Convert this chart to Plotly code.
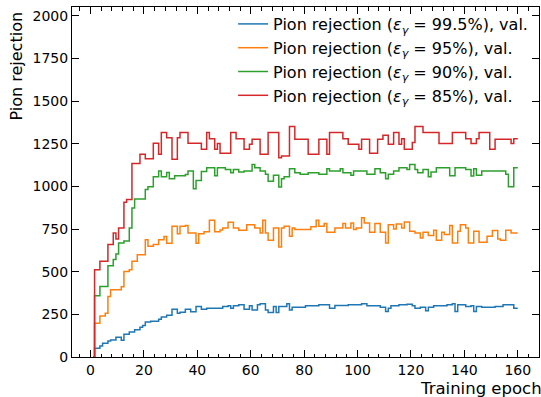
import plotly.graph_objects as go

epochs = list(range(1, 161))

rej_995 = [
    0, 51, 51, 65, 80, 80, 94, 100, 100, 116,
    116, 98, 133, 133, 147, 147, 160, 160, 175, 185,
    205, 205, 210, 210, 210, 222, 235, 235, 245, 245,
    280, 280, 257, 262, 262, 280, 280, 265, 265, 296,
    296, 280, 280, 286, 286, 286, 286, 286, 286, 296,
    296, 300, 286, 300, 300, 306, 306, 280, 280, 300,
    276, 276, 306, 312, 312, 276, 261, 261, 296, 261,
    296, 296, 296, 312, 276, 292, 292, 292, 292, 292,
    300, 300, 300, 300, 300, 306, 306, 306, 306, 286,
    286, 302, 302, 302, 302, 302, 306, 306, 306, 306,
    306, 312, 312, 300, 300, 300, 300, 300, 292, 292,
    267, 286, 300, 300, 300, 306, 306, 306, 309, 309,
    300, 286, 286, 292, 292, 271, 292, 292, 300, 300,
    300, 300, 300, 306, 306, 312, 267, 306, 306, 306,
    296, 296, 300, 267, 296, 296, 292, 292, 292, 292,
    292, 296, 296, 296, 306, 306, 306, 306, 286, 286,
]

rej_95 = [
    0, 198, 198, 241, 241, 257, 355, 394, 394, 394,
    394, 412, 502, 502, 512, 561, 561, 600, 600, 600,
    688, 649, 649, 659, 659, 688, 688, 706, 667, 667,
    767, 767, 723, 767, 767, 771, 727, 727, 727, 667,
    723, 723, 735, 735, 802, 802, 735, 735, 745, 757,
    757, 790, 790, 757, 757, 743, 743, 743, 776, 776,
    776, 757, 757, 727, 802, 727, 684, 684, 757, 757,
    645, 757, 767, 767, 708, 757, 747, 747, 747, 747,
    747, 747, 763, 763, 802, 767, 767, 782, 731, 731,
    731, 757, 757, 757, 782, 757, 757, 786, 747, 757,
    757, 816, 786, 786, 731, 731, 782, 782, 731, 731,
    669, 776, 776, 751, 780, 780, 757, 792, 792, 737,
    737, 727, 727, 698, 731, 731, 712, 712, 743, 684,
    684, 731, 718, 718, 771, 669, 669, 737, 776, 776,
    757, 669, 669, 737, 737, 673, 673, 673, 708, 708,
    741, 741, 692, 684, 684, 743, 743, 727, 727, 727,
]

rej_90 = [
    0, 359, 359, 414, 414, 414, 535, 535, 571, 604,
    669, 669, 680, 680, 757, 874, 927, 927, 927, 927,
    982, 998, 998, 1057, 1057, 1090, 1057, 1057, 1081, 1045,
    1045, 1063, 1063, 1063, 1063, 1070, 1090, 1090, 986, 1035,
    1035, 1087, 1087, 1110, 1110, 1110, 1063, 1110, 1110, 1110,
    1100, 1100, 1080, 1100, 1100, 1084, 1084, 1090, 1090, 1090,
    1129, 1110, 1110, 1090, 1090, 1071, 1031, 1031, 1065, 1065,
    996, 1045, 1057, 1057, 1104, 1104, 1080, 1080, 1071, 1071,
    1071, 1080, 1080, 1080, 1080, 1071, 1071, 1071, 1104, 1090,
    1090, 1090, 1090, 1104, 1080, 1080, 1080, 1065, 1090, 1090,
    1090, 1090, 1090, 1071, 1071, 1071, 1104, 1104, 1080, 1080,
    1045, 1071, 1071, 1090, 1090, 1110, 1110, 1110, 1100, 1129,
    1129, 1100, 1080, 1080, 1100, 1100, 1057, 1084, 1084, 1110,
    1110, 1110, 1110, 1110, 1063, 1063, 1110, 1110, 1110, 1110,
    1100, 1100, 1061, 1104, 1065, 1065, 1090, 1090, 1090, 1090,
    1090, 1090, 1090, 1090, 1090, 1071, 998, 998, 1110, 1110,
]

rej_85 = [
    0, 512, 512, 561, 561, 561, 659, 659, 727, 692,
    757, 757, 908, 923, 923, 1135, 1135, 1135, 1188, 1188,
    1163, 1163, 1163, 1253, 1253, 1188, 1316, 1316, 1286, 1286,
    1159, 1159, 1286, 1316, 1316, 1316, 1253, 1253, 1253, 1253,
    1253, 1218, 1218, 1316, 1280, 1280, 1218, 1251, 1195, 1195,
    1195, 1195, 1316, 1316, 1280, 1280, 1280, 1218, 1218, 1247,
    1276, 1276, 1276, 1188, 1188, 1188, 1316, 1316, 1316, 1316,
    1168, 1178, 1178, 1178, 1351, 1351, 1276, 1276, 1276, 1276,
    1276, 1188, 1188, 1188, 1188, 1276, 1276, 1276, 1188, 1316,
    1316, 1316, 1316, 1316, 1280, 1280, 1247, 1247, 1247, 1247,
    1218, 1276, 1276, 1276, 1195, 1195, 1195, 1276, 1276, 1300,
    1300, 1247, 1247, 1316, 1316, 1247, 1280, 1218, 1218, 1218,
    1257, 1351, 1351, 1351, 1316, 1316, 1316, 1316, 1316, 1316,
    1251, 1251, 1251, 1251, 1251, 1316, 1316, 1316, 1316, 1316,
    1280, 1280, 1251, 1251, 1280, 1316, 1316, 1316, 1316, 1218,
    1218, 1276, 1276, 1276, 1276, 1276, 1276, 1251, 1280, 1280,
]

series_names = [
    "Pion rejection (<i>ε</i><sub><i>γ</i></sub> = 99.5%), val.",
    "Pion rejection (<i>ε</i><sub><i>γ</i></sub> = 95%), val.",
    "Pion rejection (<i>ε</i><sub><i>γ</i></sub> = 90%), val.",
    "Pion rejection (<i>ε</i><sub><i>γ</i></sub> = 85%), val.",
]
series_values = [rej_995, rej_95, rej_90, rej_85]
colors = ["#1f77b4", "#ff7f0e", "#2ca02c", "#d62728"]

for v in series_values:
    assert len(v) == len(epochs), len(v)

FONT = "DejaVu Sans"
fig = go.Figure()
for name, vals, col in zip(series_names, series_values, colors):
    fig.add_trace(go.Scatter(
        x=epochs, y=vals, mode="lines", name=name,
        line=dict(color=col, width=1.5, shape="hvh"),
    ))

axis_common = dict(
    showline=True, linecolor="black", linewidth=1, mirror="allticks",
    ticks="inside", tickcolor="black", ticklen=7, tickwidth=1,
    showgrid=False, zeroline=False, automargin=False,
    tickfont=dict(family=FONT, size=14, color="black"),
)

fig.update_xaxes(
    range=[-6.95, 167.95], tick0=0, dtick=20,
    minor=dict(ticks="inside", ticklen=3.5, tickcolor="black", tick0=0, dtick=4, showgrid=False),
    **axis_common,
)
fig.update_yaxes(
    range=[0, 2052], tick0=0, dtick=250,
    **axis_common,
)

fig.add_annotation(
    text="Pion rejection", xref="paper", yref="paper", x=0, y=1,
    xanchor="center", yanchor="top", xshift=-56, yshift=-3, textangle=-90,
    showarrow=False, font=dict(family=FONT, size=16, color="black"),
)
fig.add_annotation(
    text="Training epoch", xref="paper", yref="paper", x=1, y=0,
    xanchor="right", yanchor="top", xshift=5, yshift=-20,
    showarrow=False, font=dict(family=FONT, size=16.5, color="black"),
)

fig.update_layout(
    width=541, height=397,
    margin=dict(l=72, r=2, t=7, b=40),
    paper_bgcolor="white", plot_bgcolor="white",
    font=dict(family=FONT, size=14, color="black"),
    showlegend=True,
    legend=dict(
        x=0.345, y=1.0, xanchor="left", yanchor="top",
        bgcolor="rgba(255,255,255,0)", borderwidth=0,
        font=dict(family=FONT, size=16, color="black"),
        tracegroupgap=0, itemwidth=30,
    ),
)

fig.write_html(
    "out.html",
    config={"displayModeBar": False},
    post_script="document.body.style.margin='0';",
)
